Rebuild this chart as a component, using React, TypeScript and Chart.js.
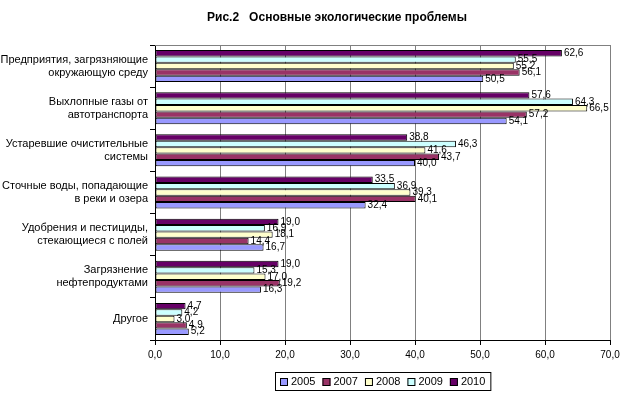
import React, { useEffect, useRef } from "react";
import { Chart, registerables } from "chart.js";

Chart.register(...registerables);

const categories: string[][] = [
  ["Предприятия, загрязняющие", "окружающую среду"],
  ["Выхлопные газы от", "автотранспорта"],
  ["Устаревшие очистительные", "системы"],
  ["Сточные воды, попадающие", "в реки и озера"],
  ["Удобрения и пестициды,", "стекающиеся с полей"],
  ["Загрязнение", "нефтепродуктами"],
  ["Другое"],
];

const years = ["2005", "2007", "2008", "2009", "2010"];
const values2005 = [50.5, 54.1, 40.0, 32.4, 16.7, 16.3, 5.2];
const values2007 = [56.1, 57.2, 43.7, 40.1, 14.4, 19.2, 4.9];
const values2008 = [55.2, 66.5, 41.6, 39.3, 18.1, 17.0, 3.0];
const values2009 = [55.5, 64.3, 46.3, 36.9, 16.9, 15.3, 4.2];
const values2010 = [62.6, 57.6, 38.8, 33.5, 19.0, 19.0, 4.7];
const colors = ["#9999FF", "#993366", "#FFFFCC", "#CCFFFF", "#660066"];
const xTicks = [0, 10, 20, 30, 40, 50, 60, 70];
const title = "Рис.2   Основные экологические проблемы";

const FONT = "'Liberation Sans', Arial, sans-serif";
const fmt = (v: number) => v.toFixed(1).replace(".", ",");

export default function App() {
  const ref = useRef<HTMLCanvasElement>(null);
  useEffect(() => {
    const seriesByYear = [values2005, values2007, values2008, values2009, values2010];
    // draw order top->bottom inside a group: 2010, 2009, 2008, 2007, 2005
    const order = [4, 3, 2, 1, 0];
    const datasets = order.map((i) => ({
      label: years[i],
      data: seriesByYear[i],
      backgroundColor: colors[i],
      borderColor: "#000000",
      borderWidth: 1,
      borderSkipped: false as any,
      categoryPercentage: 0.76,
      barPercentage: 1.0,
    }));

    const custom = {
      id: "custom",
      beforeDatasetsDraw(chart: any) {
        const { ctx, chartArea: a } = chart;
        ctx.save();
        ctx.strokeStyle = "#808080";
        ctx.lineWidth = 1;
        ctx.beginPath();
        ctx.moveTo(a.left, a.top + 0.5);
        ctx.lineTo(a.right + 0.5, a.top + 0.5);
        ctx.lineTo(a.right + 0.5, a.bottom);
        ctx.stroke();
        ctx.restore();
      },
      afterDraw(chart: any) {
        const { ctx, chartArea: a } = chart;
        ctx.save();
        // title
        ctx.fillStyle = "#000";
        ctx.font = `bold 12px ${FONT}`;
        ctx.textAlign = "center";
        ctx.textBaseline = "middle";
        ctx.fillText(title, 337, 18);
        // data labels
        ctx.font = `10px ${FONT}`;
        ctx.textAlign = "left";
        chart.data.datasets.forEach((ds: any, di: number) => {
          const meta = chart.getDatasetMeta(di);
          meta.data.forEach((bar: any, i: number) => {
            ctx.fillStyle = "#000";
            ctx.fillText(fmt(ds.data[i]), bar.x + 2, bar.y);
          });
        });
        // legend
        const items = years.map((y, i) => ({ y, c: colors[i] }));
        ctx.font = `11px ${FONT}`;
        const box = 8;
        const gap = 3;
        const widths = items.map((it) => box + gap + ctx.measureText(it.y).width);
        const spacing = 7;
        const total = widths.reduce((s, w) => s + w, 0) + spacing * (items.length - 1) + 10;
        const cx = (a.left + a.right) / 2;
        let lx = Math.round(cx - total / 2);
        const ly = 372;
        const lh = 18;
        ctx.strokeStyle = "#000";
        ctx.lineWidth = 1;
        ctx.strokeRect(lx + 0.5, ly + 0.5, total, lh);
        let x = lx + 5;
        items.forEach((it, i) => {
          const by = ly + lh / 2 - box / 2 + 1;
          ctx.fillStyle = it.c;
          ctx.fillRect(x, by, box, box);
          ctx.strokeStyle = "#000";
          ctx.strokeRect(x + 0.5, by + 0.5, box - 1, box - 1);
          ctx.fillStyle = "#000";
          ctx.textBaseline = "middle";
          ctx.fillText(it.y, x + box + gap, ly + lh / 2 + 1);
          x += widths[i] + spacing;
        });
        ctx.restore();
      },
    };

    const chart = new Chart(ref.current!, {
      type: "bar",
      data: { labels: categories as any, datasets },
      options: {
        indexAxis: "y",
        animation: false,
        responsive: false,
        maintainAspectRatio: false,
        layout: { padding: { left: 0, top: 45, right: 14, bottom: 0 } },
        plugins: {
          legend: { display: false },
          title: { display: false },
          tooltip: { enabled: false },
        },
        scales: {
          x: {
            min: 0,
            max: 70,
            afterBuildTicks: (s: any) => {
              s.ticks = xTicks.map((v) => ({ value: v }));
            },
            afterFit: (s: any) => {
              s.height = 58;
            },
            ticks: {
              color: "#000",
              font: { family: FONT, size: 10 },
              callback: (v: any) => fmt(Number(v)),
              padding: 4,
              maxRotation: 0,
            },
            grid: {
              color: "#808080",
              tickColor: "#000",
              tickLength: 5,
              drawOnChartArea: true,
            },
            border: { display: true, color: "#000" },
          },
          y: {
            afterFit: (s: any) => {
              s.width = 155;
            },
            ticks: {
              color: "#000",
              font: { family: FONT, size: 11 },
              padding: 2,
              autoSkip: false,
            },
            grid: {
              display: true,
              drawOnChartArea: false,
              drawTicks: true,
              tickLength: 5,
              color: "#000",
              offset: true,
            },
            border: { display: true, color: "#000" },
          },
        },
      },
      plugins: [custom],
    });
    return () => chart.destroy();
  }, []);

  return (
    <div style={{ position: "fixed", left: 0, top: 0, width: 624, height: 398, background: "#fff" }}>
      <canvas ref={ref} width={624} height={398} style={{ width: 624, height: 398 }} />
    </div>
  );
}
